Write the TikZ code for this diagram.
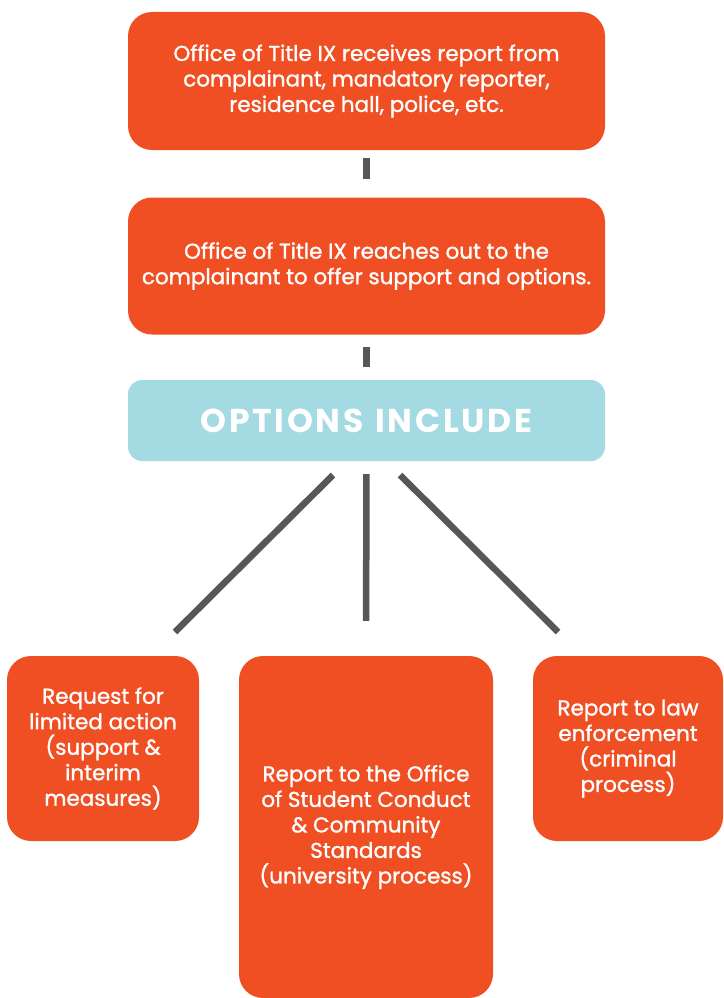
\documentclass[tikz,border=0pt]{standalone}
\usepackage{fontspec}
\setmainfont{Poppins}[FakeBold=1.3]
\newfontfamily\headfont[LetterSpace=8]{Poppins}
\usetikzlibrary{positioning}
\definecolor{boxorange}{HTML}{F04E23}
\definecolor{boxblue}{HTML}{A4DBE3}
\definecolor{linkgray}{HTML}{575757}
\begin{document}
\begin{tikzpicture}[x=1pt,y=-1pt,
  stepbox/.style={fill=boxorange,rounded corners=24pt,text=white,align=center,
    inner sep=0pt,font=\fontsize{21.5}{25.5}\selectfont},
  headbox/.style={fill=boxblue,rounded corners=14pt,text=white,
    inner sep=0pt,font=\headfont\bfseries\fontsize{33}{34}\selectfont},
  link/.style={draw=linkgray,line width=6.5pt}]
  \useasboundingbox (0,0) rectangle (723,998);
  \node[stepbox,minimum width=477,minimum height=138] (recv) at (366.5,81)
    {Office of Title IX receives report from\\complainant, mandatory reporter,\\residence hall, police, etc.};
  \node[stepbox,minimum width=477,minimum height=137] (reach) at (366.5,266)
    {Office of Title IX reaches out to the\\complainant to offer support and options.};
  \node[headbox,minimum width=477,minimum height=81] (opts) at (366.5,420.5)
    {OPTIONS\rule{12pt}{0pt}INCLUDE};
  \node[stepbox,minimum width=192,minimum height=185] (limited) at (103,748.5)
    {Request for\\limited action\\(support \&\\interim\\measures)};
  \node[stepbox,minimum width=254,minimum height=342] (conduct) at (366,827)
    {Report to the Office\\of Student Conduct\\\& Community\\Standards\\(university process)};
  \node[stepbox,minimum width=190,minimum height=185] (police) at (628,748.5)
    {Report to law\\enforcement\\(criminal\\process)};
  \coordinate (lt) at (333,475);
  \coordinate (lb) at (175,632);
  \coordinate (rt) at (400,475);
  \coordinate (rb) at (558,632);
  \draw[link,shorten <=8pt,shorten >=18pt] (recv) -- (reach);
  \draw[link,shorten <=12.5pt,shorten >=13pt] (reach) -- (opts);
  \draw[link] (lt) -- (lb);
  \draw[link,shorten <=13pt,shorten >=35pt] (opts.south) -- (conduct.north);
  \draw[link] (rt) -- (rb);
\end{tikzpicture}
\end{document}
